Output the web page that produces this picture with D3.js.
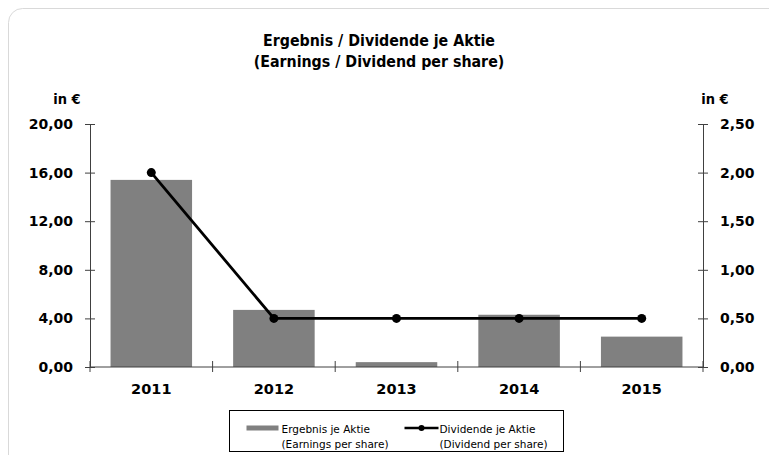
<!DOCTYPE html>
<html>
<head>
<meta charset="utf-8">
<script src="https://cdn.jsdelivr.net/npm/d3@7"></script>
<style>
  body { margin: 0; background: #fff; }
  text { font-family: "DejaVu Sans", Verdana, sans-serif; }
  .bold { font-family: "DejaVu Sans Condensed", "DejaVu Sans", sans-serif; font-weight: bold; }
  .boldwide { font-family: "DejaVu Sans", Verdana, sans-serif; font-weight: bold; }
</style>
</head>
<body>
<div id="chart"></div>
<script>
// chart data
let years = ["2011", "2012", "2013", "2014", "2015"];
let earnings = [15.4, 4.7, 0.4, 4.3, 2.5];
let dividends = [2.0, 0.5, 0.5, 0.5, 0.5];
let leftTicks = [0, 4, 8, 12, 16, 20];
let rightTicks = [0, 0.5, 1, 1.5, 2, 2.5];

let svgWidth = 769;
let svgHeight = 455;

let margin = { top: 124, right: 66, bottom: 88, left: 90 };
let width = 703 - margin.left;
let height = 367 - margin.top;

let svg = d3.select("#chart")
  .append("svg")
  .attr("width", svgWidth)
  .attr("height", svgHeight);

// outer frame
svg.append("rect")
  .attr("x", 8.5).attr("y", 8.5)
  .attr("width", 780).attr("height", 470)
  .attr("rx", 14).attr("ry", 14)
  .attr("fill", "#fff")
  .attr("stroke", "#d9d9d9");

// title
let title = svg.append("text")
  .attr("class", "bold")
  .attr("text-anchor", "middle")
  .style("font-size", "15.8px")
  .attr("fill", "#000");
title.append("tspan").attr("x", 379).attr("y", 46).text("Ergebnis / Dividende je Aktie");
title.append("tspan").attr("x", 379).attr("y", 67).text("(Earnings / Dividend per share)");

let chartGroup = svg.append("g")
  .attr("transform", `translate(${margin.left}, ${margin.top})`);

let x = d3.scaleBand()
  .domain(years)
  .range([0, width])
  .paddingInner(0.335)
  .paddingOuter(0.1675);

let yLeft = d3.scaleLinear().domain([0, 20]).range([height, 0]);
let yRight = d3.scaleLinear().domain([0, 2.5]).range([height, 0]);

let fmt = d => d3.format(".2f")(d).replace(".", ",");

// bars
chartGroup.selectAll("rect.bar")
  .data(years)
  .enter()
  .append("rect")
  .attr("class", "bar")
  .attr("x", d => x(d))
  .attr("width", x.bandwidth())
  .attr("y", (d, i) => yLeft(earnings[i]))
  .attr("height", (d, i) => height - yLeft(earnings[i]))
  .attr("fill", "#808080");

// axes
let axisColor = "#404040";

let leftAxis = d3.axisLeft(yLeft).tickValues(leftTicks).tickFormat(fmt).tickSizeInner(5).tickSizeOuter(0).tickPadding(12);
let gLeft = chartGroup.append("g").call(leftAxis);

let rightAxis = d3.axisRight(yRight).tickValues(rightTicks).tickFormat(fmt).tickSizeInner(5).tickSizeOuter(0).tickPadding(12);
let gRight = chartGroup.append("g").attr("transform", `translate(${width},0)`).call(rightAxis);

[gLeft, gRight].forEach(g => {
  g.select(".domain").attr("stroke", axisColor);
  g.selectAll(".tick line").attr("stroke", axisColor).attr("x1", -5).attr("x2", 5);
  g.selectAll(".tick text")
    .attr("class", "boldwide")
    .attr("font-family", null)
    .attr("font-size", null)
    .style("font-size", "14px")
    .attr("fill", "#000");
});

// x axis line with ticks between categories
chartGroup.append("line")
  .attr("x1", 0).attr("x2", width)
  .attr("y1", height).attr("y2", height)
  .attr("stroke", axisColor);

let step = x.step();
chartGroup.selectAll("line.xtick")
  .data(d3.range(years.length + 1))
  .enter()
  .append("line")
  .attr("class", "xtick")
  .attr("x1", d => x(years[0]) - x.paddingOuter() * step + d * step)
  .attr("x2", d => x(years[0]) - x.paddingOuter() * step + d * step)
  .attr("y1", height - 6)
  .attr("y2", height + 5)
  .attr("stroke", axisColor);

chartGroup.selectAll("text.xlabel")
  .data(years)
  .enter()
  .append("text")
  .attr("class", "boldwide")
  .attr("x", d => x(d) + x.bandwidth() / 2)
  .attr("y", height + 27)
  .attr("text-anchor", "middle")
  .style("font-size", "14.5px")
  .text(d => d);

// axis unit labels
svg.append("text").attr("class", "bold").attr("x", 67).attr("y", 104).attr("text-anchor", "middle")
  .style("font-size", "14.5px").text("in €");
svg.append("text").attr("class", "bold").attr("x", 715).attr("y", 104).attr("text-anchor", "middle")
  .style("font-size", "14.5px").text("in €");

// dividend line
let line = d3.line()
  .x((d, i) => x(years[i]) + x.bandwidth() / 2)
  .y(d => yRight(d));

chartGroup.append("path")
  .datum(dividends)
  .attr("d", line)
  .attr("fill", "none")
  .attr("stroke", "#000")
  .attr("stroke-width", 2.8);

chartGroup.selectAll("circle.dot")
  .data(dividends)
  .enter()
  .append("circle")
  .attr("class", "dot")
  .attr("cx", (d, i) => x(years[i]) + x.bandwidth() / 2)
  .attr("cy", d => yRight(d))
  .attr("r", 4.5)
  .attr("fill", "#000");

// legend
let legend = svg.append("g").attr("transform", "translate(229.5,410.5)");
legend.append("rect")
  .attr("width", 334).attr("height", 41)
  .attr("fill", "#fff").attr("stroke", "#000").attr("stroke-width", 1);

legend.append("rect")
  .attr("x", 17).attr("y", 15).attr("width", 32).attr("height", 5)
  .attr("fill", "#808080");

legend.append("line")
  .attr("x1", 175).attr("x2", 209).attr("y1", 17.5).attr("y2", 17.5)
  .attr("stroke", "#000").attr("stroke-width", 2.5);
legend.append("circle").attr("cx", 192).attr("cy", 17.5).attr("r", 3).attr("fill", "#000");

let legendItems = [
  { x: 52, lines: ["Ergebnis je Aktie", "(Earnings per share)"] },
  { x: 210, lines: ["Dividende je Aktie", "(Dividend per share)"] }
];
legendItems.forEach(item => {
  let t = legend.append("text")
    .style("font-family", "'DejaVu Sans', Verdana, sans-serif")
    .style("font-size", "10.5px")
    .attr("fill", "#000");
  item.lines.forEach((l, i) => {
    t.append("tspan").attr("x", item.x).attr("y", 22 + i * 15).text(l);
  });
});
</script>
</body>
</html>
